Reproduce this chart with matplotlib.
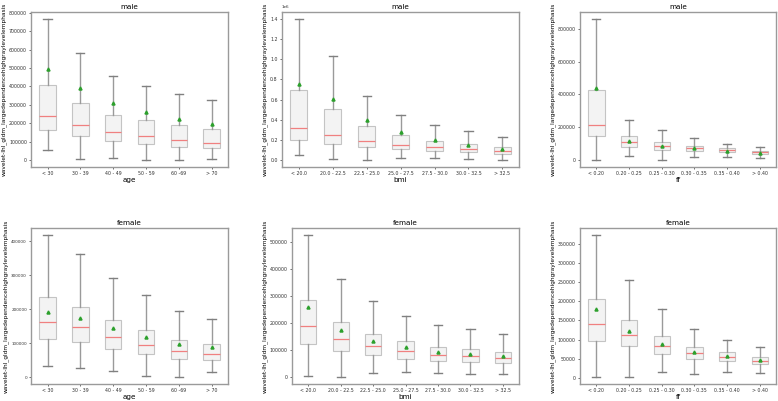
import matplotlib

matplotlib.use("Agg")
import matplotlib.pyplot as plt

ylabel = 'wavelet-lhl_gldm_largedependencehighgraylevelemphasis'

age_labels = ['< 30', '30 - 39', '40 - 49', '50 - 59', '60 -69', '> 70']
bmi_labels = ['< 20.0', '20.0 - 22.5', '22.5 - 25.0', '25.0 - 27.5', '27.5 - 30.0', '30.0 - 32.5', '> 32.5']
ff_labels = ['< 0.20', '0.20 - 0.25', '0.25 - 0.30', '0.30 - 0.35', '0.35 - 0.40', '> 0.40']

# each row: whislo, q1, med, q3, whishi, mean
male_age = [
    [54000, 164000, 240000, 406000, 767000, 496000],
    [7000, 132000, 191000, 309000, 581000, 390000],
    [11000, 105000, 153000, 245000, 457000, 310000],
    [0, 88000, 132000, 217000, 404000, 262000],
    [0, 72000, 110000, 188000, 357000, 220000],
    [7000, 63000, 94000, 170000, 327000, 193000],
]
male_bmi = [
    [47000, 196000, 313000, 695000, 1400000, 755000],
    [7000, 156000, 250000, 509000, 1035000, 602000],
    [0, 126000, 186000, 333000, 639000, 396000],
    [23000, 106000, 146000, 243000, 449000, 276000],
    [17000, 86000, 126000, 190000, 349000, 203000],
    [10000, 77000, 106000, 160000, 283000, 153000],
    [0, 63000, 86000, 126000, 230000, 113000],
]
male_ff = [
    [0, 144000, 211000, 429000, 860000, 437000],
    [24000, 82000, 110000, 144000, 243000, 116000],
    [0, 62000, 86000, 110000, 180000, 88000],
    [20000, 56000, 74000, 88000, 132000, 70000],
    [20000, 48000, 58000, 70000, 98000, 56000],
    [12000, 36000, 48000, 56000, 82000, 44000],
]
female_age = [
    [33000, 113000, 162000, 235000, 418000, 193000],
    [26000, 104000, 147000, 208000, 363000, 174000],
    [19000, 84000, 118000, 168000, 291000, 146000],
    [3000, 68000, 96000, 139000, 243000, 118000],
    [1000, 54000, 77000, 110000, 196000, 97000],
    [16000, 50000, 68000, 98000, 170000, 90000],
]
female_bmi = [
    [4000, 121000, 189000, 286000, 527000, 260000],
    [0, 96000, 141000, 204000, 362000, 173000],
    [14000, 81000, 114000, 160000, 283000, 133000],
    [20000, 68000, 95000, 133000, 228000, 110000],
    [16000, 59000, 83000, 112000, 193000, 91000],
    [10000, 57000, 78000, 105000, 179000, 85000],
    [10000, 51000, 70000, 94000, 159000, 78000],
]
female_ff = [
    [2000, 96000, 141000, 207000, 374000, 180000],
    [2000, 82000, 113000, 151000, 255000, 122000],
    [16000, 63000, 84000, 109000, 179000, 88000],
    [10000, 49000, 65000, 81000, 128000, 67000],
    [15000, 44000, 55000, 67000, 99000, 56000],
    [12000, 36000, 45000, 53000, 81000, 46000],
]

# title, xlabel, tick labels, data, axes rect, y tick font size
panels = [
    ('male', 'age', age_labels, male_age, [0.040, 0.5835, 0.253, 0.387], 3.4),
    ('male', 'bmi', bmi_labels, male_bmi, [0.3625, 0.5835, 0.305, 0.387], 3.4),
    ('male', 'ff', ff_labels, male_ff, [0.7455, 0.5835, 0.252, 0.387], 3.4),
    ('female', 'age', age_labels, female_age, [0.040, 0.0424, 0.253, 0.389], 3.0),
    ('female', 'bmi', bmi_labels, female_bmi, [0.3753, 0.0424, 0.292, 0.389], 3.4),
    ('female', 'ff', ff_labels, female_ff, [0.7455, 0.0424, 0.252, 0.389], 3.4),
]

fig = plt.figure(figsize=(7.78, 4.01), dpi=100)

for title, xlab, labels, rows, pos, ysize in panels:
    ax = fig.add_axes(pos)
    stats = []
    for lab, r in zip(labels, rows):
        stats.append(dict(label=lab, whislo=r[0], q1=r[1], med=r[2], q3=r[3],
                          whishi=r[4], mean=r[5], fliers=[]))
    ax.bxp(stats, showmeans=True, showfliers=False, patch_artist=True, widths=0.5,
           boxprops=dict(facecolor='#f3f3f3', edgecolor='#c4c4c4', linewidth=0.8),
           medianprops=dict(color='#f08080', linewidth=0.9),
           whiskerprops=dict(color='#9a9a9a', linewidth=1.0),
           capprops=dict(color='#808080', linewidth=1.0),
           meanprops=dict(marker='^', markerfacecolor='#2ca02c', markeredgecolor='#2ca02c',
                          markersize=2.2))
    ax.set_title(title, fontsize=5.2, pad=2)
    ax.set_xlabel(xlab, fontsize=5.2, labelpad=0.5)
    ax.set_ylabel(ylabel, fontsize=4.2, labelpad=1.5)
    ax.tick_params(axis='x', labelsize=3.4, length=1.5, width=0.5, pad=1.5, colors='#333333')
    ax.tick_params(axis='y', labelsize=ysize, length=1.5, width=0.5, pad=1.5, colors='#333333')
    ax.yaxis.get_offset_text().set_fontsize(3.0)
    for s in ax.spines.values():
        s.set_color('#9a9a9a')
        s.set_linewidth(1.0)

plt.savefig('out.png', dpi=100)
